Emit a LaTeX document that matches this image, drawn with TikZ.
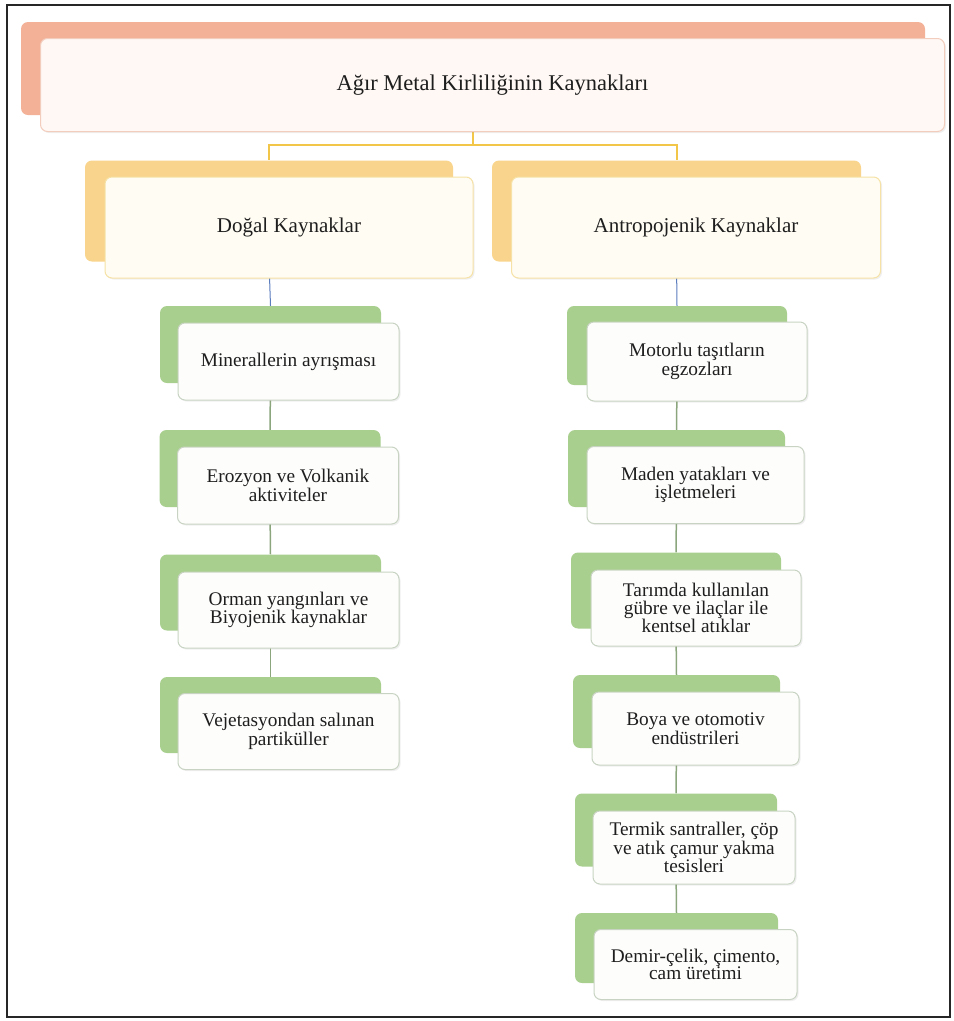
\documentclass[tikz,border=0pt]{standalone}
\usepackage{fontspec}
\setmainfont{Liberation Serif}
\usetikzlibrary{backgrounds,shadows}
\definecolor{salmonback}{HTML}{F3B198}
\definecolor{salmonedge}{HTML}{F2CDBD}
\definecolor{titlefill}{HTML}{FFF8F4}
\definecolor{yellowback}{HTML}{F9D48C}
\definecolor{yellowedge}{HTML}{F6E2A6}
\definecolor{yellowfill}{HTML}{FFFCF3}
\definecolor{greenback}{HTML}{A9CF8F}
\definecolor{greenedge}{HTML}{C9D3C3}
\definecolor{greenfill}{HTML}{FDFEFC}
\definecolor{goldline}{HTML}{F2C649}
\definecolor{blueline}{HTML}{5B7DBE}
\definecolor{grayline}{HTML}{8BA67D}
\definecolor{txt}{HTML}{1E1E1E}
\tikzset{
  boxbase/.style={rectangle, rounded corners=7pt, inner sep=0pt, align=center, text=txt},
  titleback/.style={boxbase, fill=salmonback},
  titlefront/.style={boxbase, fill=titlefill, draw=salmonedge, line width=1pt,
     font=\fontsize{22.5}{27}\selectfont,
     drop shadow={opacity=0.12, shadow xshift=1.5pt, shadow yshift=-1.5pt}},
  midback/.style={boxbase, fill=yellowback},
  midfront/.style={boxbase, fill=yellowfill, draw=yellowedge, line width=1pt,
     font=\fontsize{21}{25}\selectfont,
     drop shadow={opacity=0.12, shadow xshift=1.5pt, shadow yshift=-1.5pt}},
  leafback/.style={boxbase, fill=greenback},
  leaffront/.style={boxbase, fill=greenfill, draw=greenedge, line width=1pt,
     font=\fontsize{19.3}{17.5}\selectfont,
     drop shadow={opacity=0.12, shadow xshift=1.5pt, shadow yshift=-1.5pt}},
  goldconn/.style={draw=goldline, line width=2pt},
  blueconn/.style={draw=blueline, line width=1pt},
  grayconn/.style={draw=grayline, line width=1.5pt},
}
% name, cx, cy, w, h, dx, dy, style prefix, text
\newcommand{\pairbox}[9]{%
  \node[#8back, minimum width=#4pt, minimum height=#5pt] (#1b) at (#2,#3) {};
  \node[#8front, minimum width=#4pt, minimum height=#5pt] (#1f) at (#2+#6,#3+#7) {#9};
}
\begin{document}
\begin{tikzpicture}[x=1pt,y=-1pt]
\useasboundingbox (0,0) rectangle (954,1021);
\begin{pgfonlayer}{background}
  \fill[white] (0,0) rectangle (954,1021);
\end{pgfonlayer}
\draw[line width=1.5pt, black!85] (7,5) rectangle (950,1017);

% title
\pairbox{t}{473}{68.5}{904}{93}{19.5}{16.5}{title}{Ağır Metal Kirliliğinin Kaynakları}
% level 2
\pairbox{a}{269}{211}{368}{101}{20}{16.5}{mid}{Doğal Kaynaklar}
\pairbox{c}{676.5}{211}{369}{101}{19.5}{16.5}{mid}{Antropojenik Kaynaklar}

% left column
\pairbox{l1}{270.5}{344.5}{221}{77}{18}{17}{leaf}{Minerallerin ayrışması}
\pairbox{l2}{270}{468.5}{221}{77}{18}{17}{leaf}{Erozyon ve Volkanik\\aktiviteler}
\pairbox{l3}{270.5}{592.5}{221}{76}{18}{17.5}{leaf}{Orman yangınları ve\\Biyojenik kaynaklar}
\pairbox{l4}{270.5}{715}{221}{76}{18}{16.5}{leaf}{Vejetasyondan salınan\\partiküller}

% right column
\pairbox{r1}{677}{345.5}{220}{79}{20}{16}{leaf}{Motorlu taşıtların\\egzozları}
\pairbox{r2}{676.5}{468.5}{217}{77}{19}{16.5}{leaf}{Maden yatakları ve\\işletmeleri}
\pairbox{r3}{676}{590.5}{210}{76}{20}{17.5}{leaf}{Tarımda kullanılan\\gübre ve ilaçlar ile\\kentsel atıklar}
\pairbox{r4}{676.5}{711.5}{207}{73}{19}{17}{leaf}{Boya ve otomotiv\\endüstrileri}
\pairbox{r5}{676}{830}{202}{73}{18}{17.5}{leaf}{Termik santraller, çöp\\ve atık çamur yakma\\tesisleri}
\pairbox{r6}{676.5}{948}{203}{70}{19}{16.5}{leaf}{Demir-çelik, çimento,\\cam üretimi}

% connectors
\begin{pgfonlayer}{background}
  \draw[goldconn] (tb.south) -- ++(0,30) coordinate (tj);
  \draw[goldconn] (tj) -| (ab.north);
  \draw[goldconn] (tj) -| (cb.north);
  \draw[blueconn] (ab.south) -- (l1b.north);
  \draw[blueconn] (cb.south) -- (r1b.north);
  \draw[grayconn] (l1b.south) -- (l2b.north);
  \draw[grayconn] (l2b.south) -- (l3b.north);
  \draw[grayconn] (l3b.south) -- (l4b.north);
  \draw[grayconn] (r1b.south) -- (r2b.north);
  \draw[grayconn] (r2b.south) -- (r3b.north);
  \draw[grayconn] (r3b.south) -- (r4b.north);
  \draw[grayconn] (r4b.south) -- (r5b.north);
  \draw[grayconn] (r5b.south) -- (r6b.north);
\end{pgfonlayer}
\end{tikzpicture}
\end{document}
